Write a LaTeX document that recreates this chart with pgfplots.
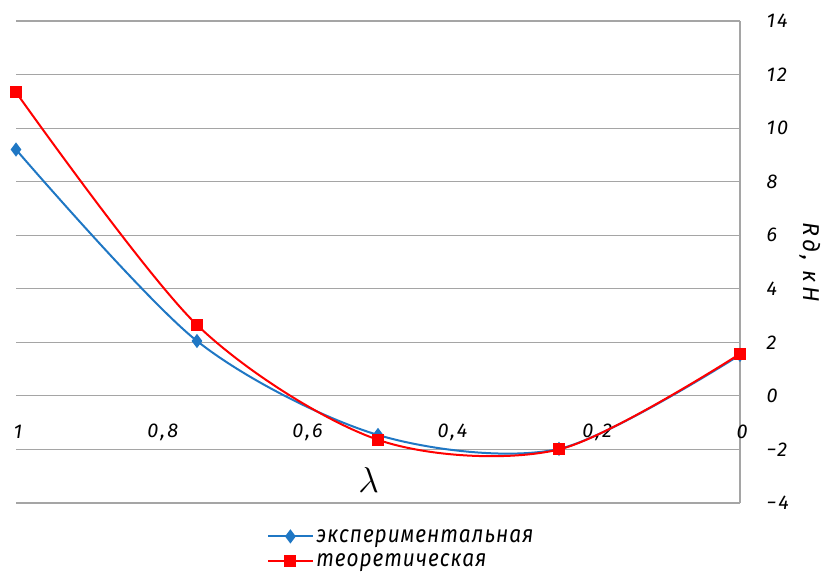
\documentclass[border=0pt]{standalone}
\usepackage{pgfplots}
\pgfplotsset{compat=1.18}
\usepackage{fontspec}
\setmainfont{Fira Sans}[LetterSpace=11]
\newfontfamily\legfont{Fira Sans}[LetterSpace=4, FakeStretch=0.87]
\definecolor{expblue}{RGB}{31,119,196}
\definecolor{thred}{RGB}{255,0,0}
\definecolor{gridgray}{RGB}{165,165,165}
\begin{document}
\begin{tikzpicture}
\useasboundingbox (0,0) rectangle (827bp,578bp);
\begin{axis}[
  at={(16bp,75bp)}, anchor=south west,
  scale only axis, width=724bp, height=482bp,
  x dir=reverse, xmin=0, xmax=1, ymin=-4, ymax=14,
  xtick={0,0.2,0.4,0.6,0.8,1},
  xticklabels={0,{0,2},{0,4},{0,6},{0,8},1},
  ytick={-4,-2,0,2,4,6,8,10,12,14},
  yticklabels={−4,−2,0,2,4,6,8,10,12,14},
  major tick length=0,
  axis x line*=bottom, axis y line*=right,
  x axis line style={draw=none},
  y axis line style={draw=gridgray, line width=1.2bp},
  ymajorgrids, grid style={draw=gridgray, line width=1.2bp},
  tick label style={font=\fontsize{20}{24}\selectfont\itshape},
  xticklabel style={anchor=center, yshift=71bp, xshift=2bp},
  yticklabel style={anchor=west, xshift=23bp},
  xlabel={\scalebox{1.45}{$\lambda$}}, xlabel style={at={(axis description cs:0.487,0.048)}, anchor=center, font=\fontsize{24}{28}\selectfont},
  ylabel={\itshape Rд, кН}, ylabel style={at={(axis description cs:1.097,0.5)}, anchor=center, rotate=180, font=\fontsize{23}{26}\selectfont\addfontfeatures{LetterSpace=16}},
  legend style={draw=none, at={(axis description cs:0.347,-0.054)}, anchor=north west, font=\fontsize{24}{27}\selectfont\legfont\itshape, row sep=10bp, inner sep=0pt, nodes={inner xsep=3bp, inner ysep=0bp}},
  legend cell align=left,
  legend image code/.code={\draw[mark repeat=2,mark phase=2,#1] plot coordinates {(0bp,0bp) (22bp,0bp) (44bp,0bp)};},
]
\addplot[color=expblue, line width=2bp, smooth, mark=diamond*, mark size=5.5bp, mark options={fill=expblue, draw=expblue}]
  coordinates {(1,9.2) (0.75,2.05) (0.5,-1.46) (0.25,-1.98) (0,1.53)};
\addlegendentry{экспериментальная}
\addplot[color=thred, line width=2bp, smooth, mark=square*, mark size=5bp, mark options={fill=thred, draw=thred}]
  coordinates {(1,11.34) (0.75,2.65) (0.5,-1.64) (0.25,-2.0) (0,1.57)};
\addlegendentry{теоретическая}
\end{axis}
\end{tikzpicture}
\end{document}
